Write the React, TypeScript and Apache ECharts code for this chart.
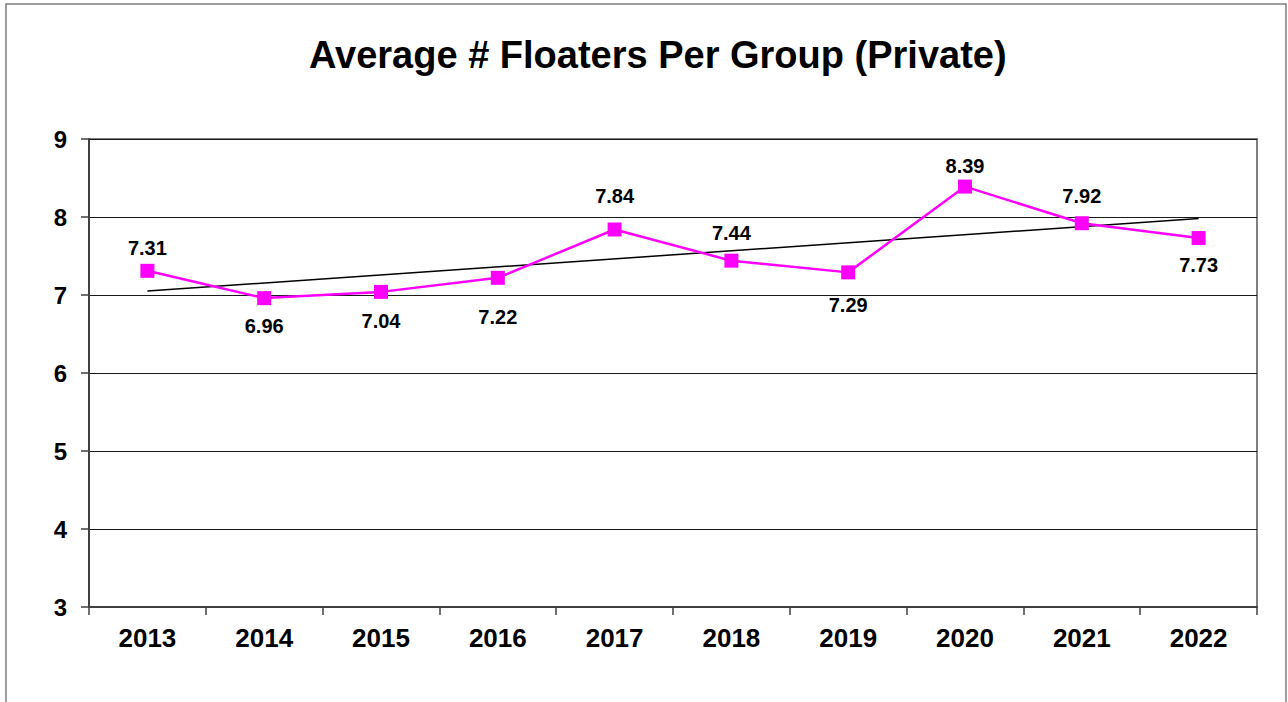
import React, { useEffect, useRef } from "react";
import * as echarts from "echarts";

const categories = ["2013", "2014", "2015", "2016", "2017", "2018", "2019", "2020", "2021", "2022"];
const values = [7.31, 6.96, 7.04, 7.22, 7.84, 7.44, 7.29, 8.39, 7.92, 7.73];
const trendEndpoints = [7.05, 7.98];
const yTicks = { min: 3, max: 9, interval: 1 };
const titleText = "Average # Floaters Per Group (Private)";

// label placement (style only)
const labelPositions = ["top", "bottom", "bottom", "bottom", "top", "top", "bottom", "top", "top", "bottom"];
const labelDistances = [6, 11, 12, 22, 16, 11, 16, 4, 10, 10];

const FONT = "'Liberation Sans', Arial, sans-serif";

export default function App() {
  const ref = useRef<HTMLDivElement>(null);
  useEffect(() => {
    if (!ref.current) return;
    const chart = echarts.init(ref.current, undefined, { renderer: "svg" });
    const last = categories.length - 1;
    const trendData = categories.map((_, i) => (i === 0 ? trendEndpoints[0] : i === last ? trendEndpoints[1] : null));
    chart.setOption({
      animation: false,
      backgroundColor: "#ffffff",
      title: {
        text: titleText,
        left: 304,
        top: 31,
        textStyle: { fontFamily: FONT, fontWeight: "bold", fontSize: 38, color: "#000" },
      },
      graphic: [
        {
          type: "rect",
          shape: { x: 6, y: 4, width: 1280, height: 760 },
          style: { fill: "none", stroke: "#7f7f7f", lineWidth: 1.5 },
          silent: true,
          z: -10,
        },
      ],
      grid: {
        left: 89,
        top: 139,
        right: 31,
        bottom: 95,
        show: true,
        borderColor: "#7f7f7f",
        borderWidth: 2,
        backgroundColor: "transparent",
      },
      xAxis: {
        type: "category",
        data: categories,
        boundaryGap: true,
        axisLine: { lineStyle: { color: "#404040", width: 2 } },
        axisTick: { show: true, length: 8, lineStyle: { color: "#404040", width: 1.5 } },
        axisLabel: { fontFamily: FONT, fontWeight: "bold", fontSize: 26, color: "#000", margin: 18 },
        splitLine: { show: false },
      },
      yAxis: {
        type: "value",
        min: yTicks.min,
        max: yTicks.max,
        interval: yTicks.interval,
        axisLine: { show: true, lineStyle: { color: "#404040", width: 2 } },
        axisTick: { show: true, length: 8, lineStyle: { color: "#404040", width: 1.5 } },
        axisLabel: { fontFamily: FONT, fontWeight: "bold", fontSize: 24, color: "#000", margin: 22 },
        splitLine: { show: true, lineStyle: { color: "#1a1a1a", width: 1 } },
      },
      series: [
        {
          name: "Trend",
          type: "line",
          data: trendData,
          connectNulls: true,
          showSymbol: false,
          symbol: "none",
          lineStyle: { color: "#000", width: 1.5 },
          z: 1,
          silent: true,
        },
        {
          name: "Average",
          type: "line",
          data: values.map((v, i) => ({
            value: v,
            label: { position: labelPositions[i], distance: labelDistances[i] },
          })),
          symbol: "rect",
          symbolSize: 14,
          itemStyle: { color: "#ff00ff" },
          lineStyle: { color: "#ff00ff", width: 2.5 },
          label: {
            show: true,
            fontFamily: FONT,
            fontWeight: "bold",
            fontSize: 20,
            color: "#000",
            formatter: (p: any) => Number(p.value).toFixed(2),
          },
          z: 2,
        },
      ],
    });
    return () => chart.dispose();
  }, []);
  return <div ref={ref} style={{ position: "fixed", left: 0, top: 0, width: 1288, height: 702 }} />;
}
